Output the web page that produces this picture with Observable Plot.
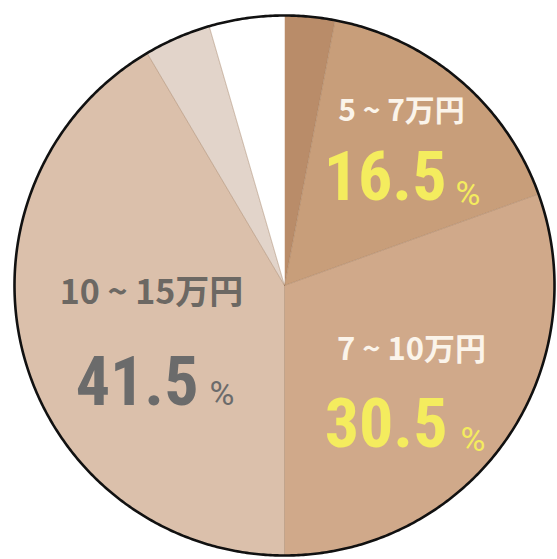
<!DOCTYPE html>
<html><head><meta charset="utf-8">
<script src="https://cdn.jsdelivr.net/npm/d3@7"></script>
<script src="https://cdn.jsdelivr.net/npm/@observablehq/plot@0.6"></script>
<style>body{margin:0;background:#fff}svg{display:block}</style>
</head><body><div id="chart"></div>
<script>
// ---- data ----
const categories = ["5万円未満", "5 ~ 7万円", "7 ~ 10万円", "10 ~ 15万円", "15 ~ 20万円", "20万円以上"];
const shares = [3, 16.5, 30.5, 41.5, 4, 4.5];
const valueLabels = ["", "16.5", "30.5", "41.5", "", ""];
const showLabel = [false, true, true, true, false, false];

// ---- styles ----
const fills = ["#b98c69", "#c89e7a", "#d0a98a", "#dbc0ab", "#e2d4ca", "#ffffff"];
const titleColors = ["", "#fbf4ea", "#fbf4ea", "#6c6863"];
const numberColors = ["", "#f4ec5e", "#f4ec5e", "#6b6b6b"];
const W = 557, H = 559, CX = 284, CY = 285, R = 270;
// label layout in pixels: [titleX, titleY, numEndX, numMidY, pctStartX, pctMidY, titleSize]
const layout = [null, [401, 111, 446, 178, 455, 194, 30], [411, 350, 447, 425, 460, 440, 31], [151, 293, 198, 383, 209, 394, 34]];

const total = d3.sum(shares);
let acc = 0;
const slices = shares.map((v, i) => {
  const a0 = acc / total * 2 * Math.PI; acc += v;
  const a1 = acc / total * 2 * Math.PI;
  return {i, name: categories[i], a0, a1};
});
const poly = [];
slices.forEach(s => {
  const n = Math.max(4, Math.ceil((s.a1 - s.a0) / 0.005));
  poly.push({k: s.name, x: 0, y: 0, f: fills[s.i]});
  for (let j = 0; j <= n; j++) {
    const a = s.a0 + (s.a1 - s.a0) * j / n;
    poly.push({k: s.name, x: Math.sin(a), y: Math.cos(a), f: fills[s.i]});
  }
  poly.push({k: s.name, x: 0, y: 0, f: fills[s.i]});
});
const edges = [];
slices.forEach(s => {
  if (s.i === 0 || s.i === 5) return;
  edges.push({k: s.name, x: 0, y: 0}, {k: s.name, x: Math.sin(s.a0), y: Math.cos(s.a0)});
});
edges.push({k: "last", x: 0, y: 0}, {k: "last", x: Math.sin(slices[5].a0), y: Math.cos(slices[5].a0)});
const circle = d3.range(0, 721).map(j => ({x: Math.sin(j / 720 * 2 * Math.PI), y: Math.cos(j / 720 * 2 * Math.PI)}));

const px = x => (x - CX) / R, py = y => (CY - y) / R;
const labels = slices.filter(s => showLabel[s.i]).map(s => {
  const L = layout[s.i];
  return {title: categories[s.i], num: valueLabels[s.i], tx: px(L[0]), ty: py(L[1]), nx: px(L[2]), ny: py(L[3]), cx: px(L[4]), cy: py(L[5]), size: L[6], tc: titleColors[s.i], nc: numberColors[s.i]};
});

const narrow = "'Liberation Sans Narrow', 'Roboto Condensed', 'DejaVu Sans Condensed', sans-serif";
const titleFont = "'Liberation Sans Narrow', 'Noto Sans CJK JP', sans-serif";

const marks = [
  Plot.line(poly, {x: "x", y: "y", z: "k", fill: "f", stroke: "none", curve: "linear"}),
  Plot.line(edges, {x: "x", y: "y", z: "k", stroke: "#9c7556", strokeOpacity: 0.45, strokeWidth: 1}),
  Plot.line(circle, {x: "x", y: "y", stroke: "#111", strokeWidth: 2.6}),
  Plot.text(labels, {x: "tx", y: "ty", text: "title", fill: "tc", fontFamily: titleFont, fontWeight: "bold", fontSize: d => d.size, textAnchor: "middle", lineAnchor: "middle"})
];
// numbers and percent signs
labels.forEach(d => {
  marks.push(Plot.text([d], {x: "nx", y: "ny", text: "num", fill: "nc", fontFamily: narrow, fontWeight: "bold", fontSize: 68, textAnchor: "end", lineAnchor: "middle"}));
  marks.push(Plot.text([d], {x: "cx", y: "cy", text: () => "%", fill: "nc", fontFamily: "Roboto, sans-serif", fontSize: 34, textAnchor: "start", lineAnchor: "middle"}));
});

const chart = Plot.plot({
  width: W, height: H,
  marginLeft: CX - R, marginRight: W - (CX + R), marginTop: CY - R, marginBottom: H - (CY + R),
  x: {domain: [-1, 1], axis: null},
  y: {domain: [-1, 1], axis: null},
  color: {type: "identity"},
  style: {background: "#fff", overflow: "visible"},
  marks
});
document.getElementById("chart").appendChild(chart);
</script>
</body></html>
